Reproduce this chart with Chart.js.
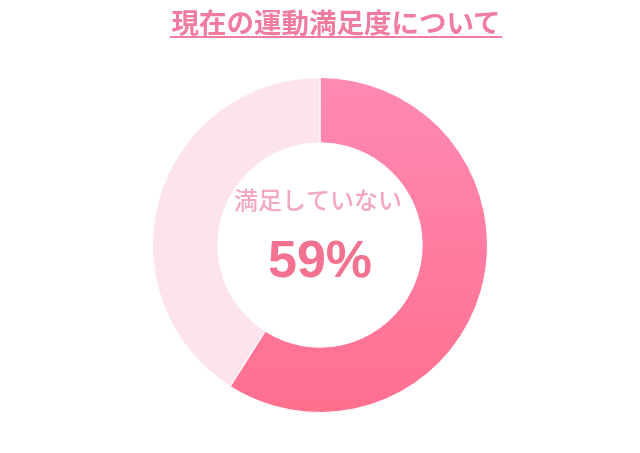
<html>
<head>
<meta charset="utf-8">
<script src="https://cdn.jsdelivr.net/npm/chart.js"></script>
<style>
  body { margin: 0; background: #fff; }
  #wrap { position: relative; width: 640px; height: 453px; }
  #title {
    position: absolute; left: 168px; width: 336px; top: 6px; text-align: center;
    font-family: "Noto Sans CJK JP", sans-serif; font-weight: bold; font-size: 27.5px;
    line-height: 30px; color: #f07ca0; white-space: nowrap;
  }
  #title span { display: inline-block; line-height: 30px; border-bottom: 2px solid #f07ca0; padding: 0 1px; }
</style>
</head>
<body>
<div id="wrap">
  <div id="title"><span>現在の運動満足度について</span></div>
  <canvas id="myChart" width="640" height="453"></canvas>
</div>
<script>
  var labels = ["満足していない", "満足している"];
  var values = [59, 41];
  var centerLabel = "満足していない";
  var centerValue = "59%";

  var centerText = {
    id: "centerText",
    afterDraw: function (chart) {
      var c = chart.ctx;
      var m = chart.getDatasetMeta(0).data[0];
      c.save();
      c.textAlign = "center";
      c.textBaseline = "middle";
      c.fillStyle = "#f5a6c0";
      c.font = "500 24px 'Noto Sans CJK JP'";
      c.fillText(centerLabel, m.x - 2, m.y - 45);
      c.fillStyle = "#f2728f";
      c.font = "bold 52px 'Liberation Sans', Arial";
      c.fillText(centerValue, m.x, m.y + 18);
      c.restore();
    }
  };

  var dataObj = {
    type: "doughnut",
    data: {
      labels: labels,
      datasets: [
        {
          data: values,
          backgroundColor: function (context) {
            var chart = context.chart;
            var area = chart.chartArea;
            if (!area) return "#ff80a0";
            if (context.dataIndex == 1) return "#fde4ec";
            var g = chart.ctx.createLinearGradient(0, area.top, 0, area.bottom);
            g.addColorStop(0, "#ff8ab4");
            g.addColorStop(1, "#ff6f8e");
            return g;
          },
          borderColor: "#ffffff",
          borderWidth: 1,
        },
      ],
    },
    options: {
      responsive: false,
      animation: false,
      cutout: "61%",
      layout: { padding: { top: 77, bottom: 40 } },
      plugins: {
        legend: { display: false },
        tooltip: { enabled: false },
      },
    },
    plugins: [centerText],
  };
  const ctx = document.getElementById("myChart").getContext("2d");
  window.myChart = new Chart(ctx, dataObj);
</script>
</body>
</html>
